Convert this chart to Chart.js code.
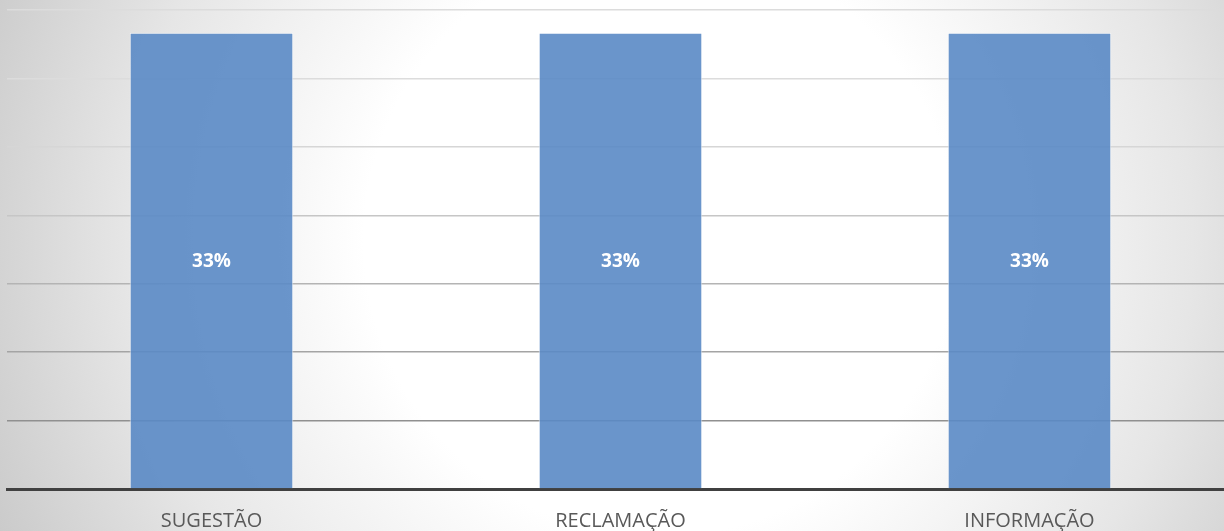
<!DOCTYPE html>
<html>
<head>
<meta charset="utf-8">
<script src="https://cdn.jsdelivr.net/npm/chart.js@4"></script>
<style>
  html, body { margin: 0; padding: 0; overflow: hidden; width: 1224px; height: 531px; }
  #wrap { position: absolute; left: 0; top: 0; width: 1234px; height: 531px; }
</style>
</head>
<body>
<div id="wrap"><canvas id="c"></canvas></div>
<script>
const categories = ['SUGESTÃO', 'RECLAMAÇÃO', 'INFORMAÇÃO'];
const values = [0.3333, 0.3333, 0.3333];
const valueLabels = ['33%', '33%', '33%'];
const gridColors = ['#8a8a8a', '#909090', '#a4a4a4', '#b4b4b4', '#c6c6c6', '#d6d6d6', '#dcdcdc', '#dcdcdc'];

const bgPlugin = {
  id: 'bg',
  beforeDraw(chart) {
    const ctx = chart.ctx;
    const w = chart.width, h = chart.height;
    ctx.save();
    const g = ctx.createRadialGradient(660, 240, 0, 660, 240, 740);
    g.addColorStop(0, '#ffffff');
    g.addColorStop(0.4, '#ffffff');
    g.addColorStop(0.72, '#e6e6e6');
    g.addColorStop(1, '#c8c8c8');
    ctx.fillStyle = g;
    ctx.fillRect(0, 0, w, h);
    ctx.restore();
  }
};

const labelPlugin = {
  id: 'barLabels',
  afterDatasetsDraw(chart) {
    const ctx = chart.ctx;
    const meta = chart.getDatasetMeta(0);
    ctx.save();
    ctx.font = 'bold 19px "Open Sans", sans-serif';
    ctx.fillStyle = '#ffffff';
    ctx.textAlign = 'center';
    ctx.textBaseline = 'middle';
    meta.data.forEach((bar, i) => {
      const y = (bar.y + bar.base) / 2;
      ctx.fillText(valueLabels[i], bar.x, y + 1);
    });
    ctx.restore();
  }
};

new Chart(document.getElementById('c'), {
  type: 'bar',
  data: {
    labels: categories,
    datasets: [{
      data: values,
      backgroundColor: 'rgba(90,137,197,0.9)',
      borderColor: 'rgba(255,255,255,0.7)',
      borderWidth: 1,
      barPercentage: 0.4,
      categoryPercentage: 1.0
    }]
  },
  options: {
    responsive: true,
    maintainAspectRatio: false,
    animation: false,
    devicePixelRatio: 1,
    layout: { padding: { left: 7, top: 10, right: 0, bottom: 0 } },
    plugins: { legend: { display: false }, tooltip: { enabled: false } },
    scales: {
      x: {
        afterFit(scale) { scale.height = 42; },
        grid: { display: false, drawTicks: false },
        border: { display: true, color: '#404040', width: 3 },
        ticks: {
          color: '#595959',
          font: { family: '"Open Sans", sans-serif', size: 20 },
          padding: 20
        }
      },
      y: {
        min: 0,
        max: 0.35,
        ticks: { display: false, stepSize: 0.05 },
        border: { display: false },
        grid: {
          drawTicks: false,
          lineWidth: 1.5,
          color: (ctx) => gridColors[ctx.index] || '#dcdcdc'
        }
      }
    }
  },
  plugins: [bgPlugin, labelPlugin]
});
</script>
</body>
</html>
